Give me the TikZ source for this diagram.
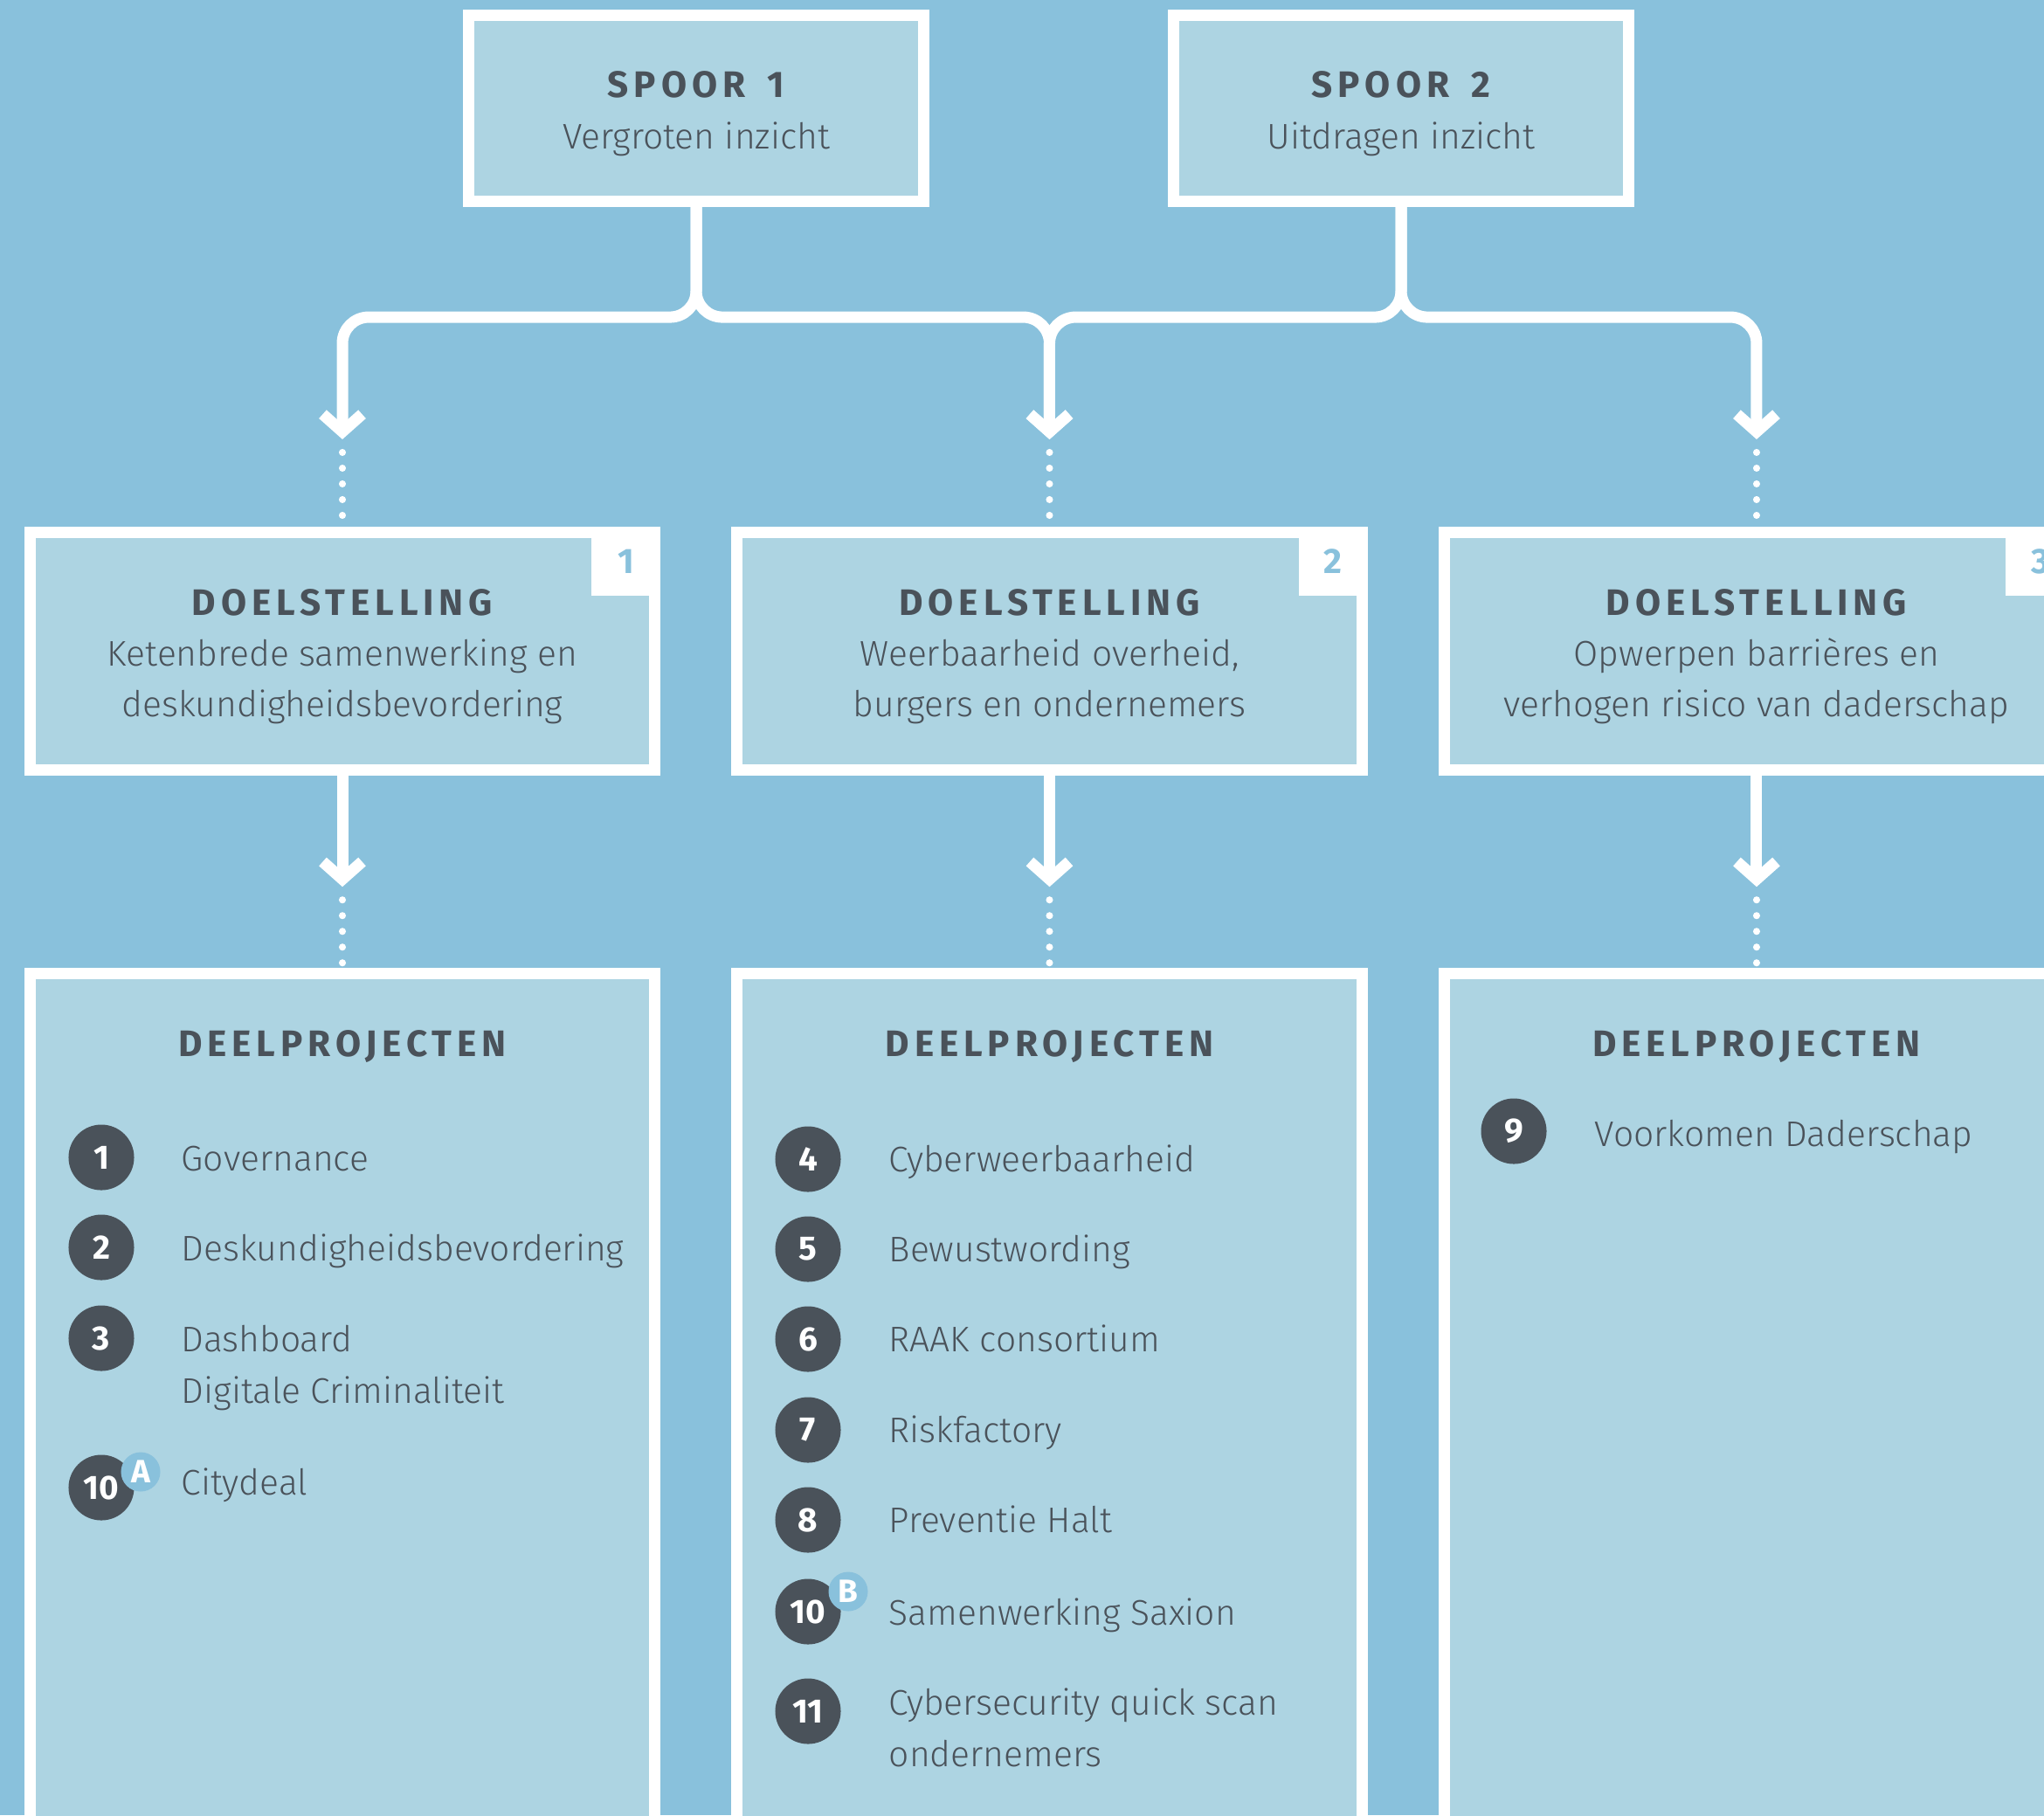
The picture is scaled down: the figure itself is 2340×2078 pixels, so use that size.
\documentclass[tikz,border=0pt]{standalone}
\usepackage{fontspec}
\setmainfont{Fira Sans}[UprightFont={* Light}, BoldFont={* Bold}]
\newfontfamily\headfont{Fira Sans}[LetterSpace=14]
\usetikzlibrary{arrows.meta, positioning, calc}
\definecolor{sea}{RGB}{137,193,220}
\definecolor{pale}{RGB}{173,212,226}
\definecolor{slate}{RGB}{74,82,90}
\newcommand{\kop}[1]{{\headfont\bfseries\fontsize{12}{16.6}\selectfont\rule{0pt}{12pt}#1}}

\begin{document}
\begin{tikzpicture}[
  x=0.01cm, y=-0.01cm,
  font=\fontsize{11.6}{16.6}\selectfont,
  card/.style={rectangle, draw=white, line width=3.7pt, fill=pale, text=slate, align=center},
  spoorbox/.style={card, minimum width=5.2cm, minimum height=2.13cm},
  doelbox/.style={card, minimum width=7.15cm, minimum height=2.72cm},
  deelbox/.style={card, minimum width=7.15cm, minimum height=10cm},
  tagbox/.style={rectangle, fill=white, minimum size=0.79cm, inner sep=0pt, outer sep=0pt,
                 text=sea, font=\bfseries\fontsize{11.5}{12}\selectfont},
  num/.style={circle, fill=slate, minimum size=0.75cm, inner sep=0pt, text=white,
              font=\bfseries\fontsize{11}{12}\selectfont},
  badge/.style={circle, fill=sea, minimum size=0.45cm, inner sep=0pt, text=white,
                font=\bfseries\fontsize{10.5}{11}\selectfont},
  item/.style={anchor=base west, inner sep=0pt, align=left, text=slate},
  flow/.style={white, line width=3.7pt, rounded corners=0.3cm},
  arr/.style={-{Straight Barb[length=0.2cm, width=0.45cm]}},
  dotline/.style={white, line width=2.3pt, line cap=round, dash pattern=on 0pt off 0.18cm,
                  shorten <=0.15cm, shorten >=0.04cm}
]
\fill[sea] (0,0) rectangle (2340,2078);
\useasboundingbox (0,0) rectangle (2340,2078);
\clip (0,0) rectangle (2340,2078);

% sporen
\node[spoorbox] (sp1) at (797,124) {\kop{SPOOR\hspace{0.6em}1}\\Vergroten inzicht};
\node[spoorbox] (sp2) at (1604,124) {\kop{SPOOR\hspace{0.6em}2}\\Uitdragen inzicht};

% doelstellingen
\node[doelbox] (d1) at (392,745.5) {\kop{DOELSTELLING}\\Ketenbrede samenwerking en\\deskundigheidsbevordering};
\node[doelbox, right=0.81cm of d1] (d2) {\kop{DOELSTELLING}\\Weerbaarheid overheid,\\burgers en ondernemers};
\node[doelbox, right=0.81cm of d2] (d3) {\kop{DOELSTELLING}\\Opwerpen barrières en\\verhogen risico van daderschap};
\node[tagbox, anchor=north east] (n1) at (d1.north east) {1};
\node[tagbox, anchor=north east] (n2) at (d2.north east) {2};
\node[tagbox, anchor=north east] (n3) at (d3.north east) {3};

% sporen -> doelstellingen
\coordinate (t1) at ($(d1.north)+(0,-100)$);
\coordinate (t2) at ($(d2.north)+(0,-100)$);
\coordinate (t3) at ($(d3.north)+(0,-100)$);
\draw[flow, arr] (sp1.south) -- ++(0,126) -| (t1);
\draw[flow, arr] (sp1.south) -- ++(0,126) -| (t2);
\draw[flow, arr] (sp2.south) -- ++(0,126) -| (t2);
\draw[flow, arr] (sp2.south) -- ++(0,126) -| (t3);
\draw[dotline] (t1) -- (d1.north);
\draw[dotline] (t2) -- (d2.north);
\draw[dotline] (t3) -- (d3.north);

% deelprojecten
\node[deelbox, below=2.2cm of d1] (p1) {};
\node[deelbox, below=2.2cm of d2] (p2) {};
\node[deelbox, below=2.2cm of d3] (p3) {};
\node (h1) at ($(p1.north)+(0,84)$) [text=slate] {\kop{DEELPROJECTEN}};
\node (h2) at ($(p2.north)+(0,84)$) [text=slate] {\kop{DEELPROJECTEN}};
\node (h3) at ($(p3.north)+(0,84)$) [text=slate] {\kop{DEELPROJECTEN}};

\coordinate (u1) at ($(p1.north)+(0,-93)$);
\coordinate (u2) at ($(p2.north)+(0,-93)$);
\coordinate (u3) at ($(p3.north)+(0,-93)$);
\draw[flow, arr] (d1.south) -- (u1);
\draw[flow, arr] (d2.south) -- (u2);
\draw[flow, arr] (d3.south) -- (u3);
\draw[dotline] (u1) -- (p1.north);
\draw[dotline] (u2) -- (p2.north);
\draw[dotline] (u3) -- (p3.north);

% kolom 1
\node[num] (c1) at (116,1325) {1};
\node[item] (l1) at ($(c1)+(91,15)$) {Governance};
\node[num] (c2) at (116,1428) {2};
\node[item] (l2) at ($(c2)+(91,15)$) {Deskundigheidsbevordering};
\node[num] (c3) at (116,1532) {3};
\node[item] (l3) at ($(c3)+(91,74)$) {Dashboard\\Digitale Criminaliteit};
\node[num] (c10a) at (116,1703) {10};
\node[badge] (ba) at ($(c10a)+(45,-18)$) {A};
\node[item] (l10a) at ($(c10a)+(91,8)$) {Citydeal};

% kolom 2
\node[num] (c4) at (925,1327) {4};
\node[item] (l4) at ($(c4)+(92,14)$) {Cyberweerbaarheid};
\node[num] (c5) at (925,1430) {5};
\node[item] (l5) at ($(c5)+(92,14)$) {Bewustwording};
\node[num] (c6) at (925,1533) {6};
\node[item] (l6) at ($(c6)+(92,14)$) {RAAK consortium};
\node[num] (c7) at (925,1637) {7};
\node[item] (l7) at ($(c7)+(92,14)$) {Riskfactory};
\node[num] (c8) at (925,1740) {8};
\node[item] (l8) at ($(c8)+(92,14)$) {Preventie Halt};
\node[num] (c10b) at (925,1845) {10};
\node[badge] (bb) at ($(c10b)+(46,-23)$) {B};
\node[item] (l10b) at ($(c10b)+(92,15)$) {Samenwerking Saxion};
\node[num] (c11) at (925,1959) {11};
\node[item] (l11) at ($(c11)+(92,63)$) {Cybersecurity quick scan\\ondernemers};

% kolom 3
\node[num] (c9) at (1733,1295) {9};
\node[item] (l9) at ($(c9)+(92,17)$) {Voorkomen Daderschap};

\end{tikzpicture}
\end{document}
